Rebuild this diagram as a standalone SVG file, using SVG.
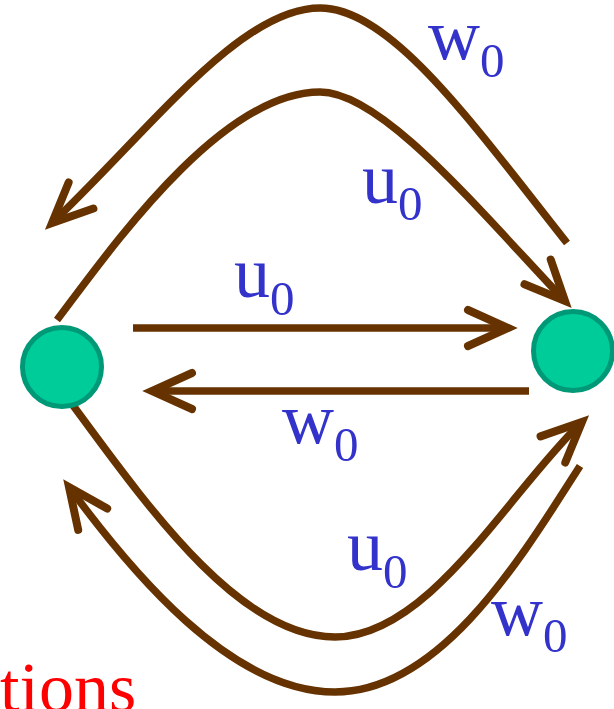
<svg xmlns="http://www.w3.org/2000/svg" width="614" height="709" viewBox="0 0 614 709">
<style>
.edge{fill:none;stroke:#663300;stroke-width:7.5;stroke-linecap:butt;marker-end:url(#ah)}
.node{fill:#00CC99;stroke:#009977;stroke-width:5}
.lbl{font-family:"Liberation Serif","Times New Roman",serif;font-size:72px;fill:#3333CC}
.sub{font-size:49px}
.red{font-family:"Liberation Serif","Times New Roman",serif;font-size:70px;fill:#FF0000}
</style>
<defs>
<marker id="ah" markerUnits="userSpaceOnUse" orient="auto" markerWidth="80" markerHeight="80" refX="0" refY="0" viewBox="-60 -40 80 80" overflow="visible">
<path d="M-40,-18 L0,0 L-40,18" fill="none" stroke="#663300" stroke-width="8" stroke-linecap="round" stroke-linejoin="miter" stroke-miterlimit="10"/>
</marker>
</defs>
<g id="connectors">
<path id="e-top-outer" class="edge" d="M567,243 C470,120 390,8 320,8 C240,8 150,130 52,223"/>
<path id="e-top-inner" class="edge" d="M57,320 C110,250 220,92 320,92 C380,92 470,200 565,301"/>
<path id="e-mid-u" class="edge" d="M133,328 L508,328"/>
<path id="e-mid-w" class="edge" d="M529,391 L152,391"/>
<path id="e-bot-inner" class="edge" d="M72,404 C150,510 240,637 335,637 C430,637 510,490 582,422"/>
<path id="e-bot-outer" class="edge" d="M580,466 C520,560 440,692 335,692 C230,692 130,570 69,487"/>
</g>
<g id="labels">
<text class="lbl" x="428" y="59">w<tspan class="sub" dy="18">0</tspan></text>
<text class="lbl" x="362" y="203">u<tspan class="sub" dy="17">0</tspan></text>
<text class="lbl" x="234" y="297">u<tspan class="sub" dy="18">0</tspan></text>
<text class="lbl" x="282" y="443">w<tspan class="sub" dy="18">0</tspan></text>
<text class="lbl" x="347" y="570">u<tspan class="sub" dy="18">0</tspan></text>
<text class="lbl" x="491" y="635">w<tspan class="sub" dy="17">0</tspan></text>
</g>
<g id="node-left"><circle class="node" cx="62" cy="367" r="39.5"/></g>
<g id="node-right"><circle class="node" cx="573" cy="351" r="39.5"/></g>
<text class="red" x="0" y="711">tions</text>
</svg>
